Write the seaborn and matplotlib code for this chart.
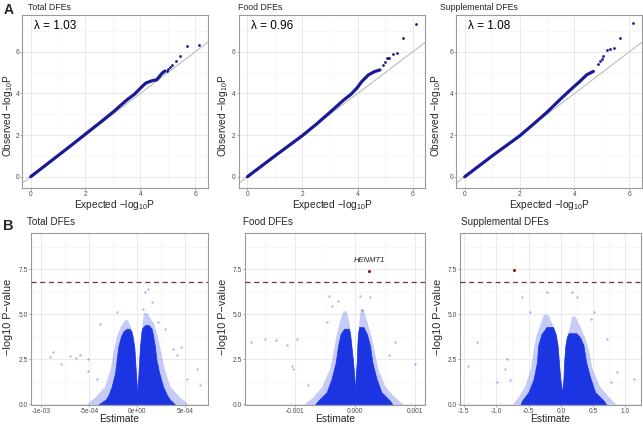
import matplotlib
matplotlib.use("Agg")
import matplotlib.pyplot as plt
from matplotlib.ticker import AutoMinorLocator, FixedLocator, FixedFormatter
import seaborn as sns
import pandas as pd

# ---------------- data ----------------
panel_titles = ["Total DFEs", "Food DFEs", "Supplemental DFEs"]
lambdas = ["λ = 1.03", "λ = 0.96", "λ = 1.08"]

# QQ: dense part of the curve
qq_total_exp = [0, 0.5, 1, 1.5, 2, 2.5, 3, 3.5, 3.8, 4.0, 4.2, 4.4, 4.6, 4.72, 4.8, 4.9]
qq_total_obs = [0, 0.51, 1.02, 1.53, 2.05, 2.57, 3.1, 3.68, 3.98, 4.25, 4.5, 4.6, 4.66, 4.85, 4.98, 5.08]
qq_food_exp = [0, 0.5, 1, 1.5, 2, 2.5, 3, 3.5, 3.75, 3.97, 4.15, 4.39, 4.61, 4.81]
qq_food_obs = [0, 0.5, 1.0, 1.49, 1.98, 2.52, 3.1, 3.69, 3.95, 4.25, 4.57, 4.89, 5.05, 5.13]
qq_supp_exp = [0, 0.5, 1, 1.5, 2, 2.5, 3, 3.5, 4, 4.2, 4.45, 4.69]
qq_supp_obs = [0, 0.5, 1.0, 1.48, 1.96, 2.52, 3.1, 3.74, 4.35, 4.58, 4.90, 5.06]
# QQ: separate top points
qq_total_top_exp = [4.96, 5.02, 5.08, 5.17, 5.29, 5.46, 5.69, 6.15]
qq_total_top_obs = [5.10, 5.18, 5.26, 5.38, 5.56, 5.82, 6.30, 6.35]
qq_food_top_exp = [4.93, 4.99, 5.05, 5.10, 5.15, 5.30, 5.44, 5.66, 6.12]
qq_food_top_obs = [5.37, 5.53, 5.72, 5.72, 5.72, 5.91, 5.95, 6.67, 7.33]
qq_supp_top_exp = [4.85, 4.93, 4.99, 5.05, 5.20, 5.31, 5.45, 5.66, 6.15]
qq_supp_top_obs = [5.41, 5.54, 5.65, 5.78, 6.09, 6.14, 6.17, 6.66, 7.38]

# Volcano: dense cloud envelopes (y levels, outer / inner estimate edges)
tot_left_y = [0.0, 0.25, 0.5, 0.97, 1.71, 2.45, 3.2, 3.76, 4.05, 4.2]
tot_left_outer = [-4.0e-4, -3.3e-4, -3.0e-4, -2.67e-4, -2.32e-4, -2.15e-4, -1.98e-4, -1.7e-4, -1.45e-4, -1.1e-4]
tot_left_inner = [0.0, 0.0, 0.0, -0.04e-4, -0.14e-4, -0.22e-4, -0.31e-4, -0.48e-4, -0.6e-4, -0.8e-4]
tot_right_y = [0.0, 0.25, 0.5, 0.97, 1.71, 2.45, 3.2, 3.76, 4.2, 4.4]
tot_right_inner = [0.0, 0.0, 0.0, 0.05e-4, 0.12e-4, 0.2e-4, 0.28e-4, 0.38e-4, 0.48e-4, 0.8e-4]
tot_right_outer = [3.9e-4, 3.4e-4, 3.1e-4, 2.7e-4, 2.3e-4, 2.0e-4, 1.84e-4, 1.67e-4, 1.5e-4, 1.2e-4]

food_left_y = [0, 0.2, 0.67, 1.41, 2.34, 3.27, 3.9, 4.2]
food_left_outer = [-0.66e-3, -0.61e-3, -0.47e-3, -0.39e-3, -0.32e-3, -0.28e-3, -0.24e-3, -0.18e-3]
food_left_inner = [0, 0, 0, -0.01e-3, -0.03e-3, -0.06e-3, -0.08e-3, -0.1e-3]
food_right_y = [0, 0.2, 0.67, 1.41, 2.34, 3.27, 3.9, 4.3]
food_right_inner = [0, 0, 0, 0.01e-3, 0.03e-3, 0.04e-3, 0.05e-3, 0.07e-3]
food_right_outer = [0.62e-3, 0.58e-3, 0.44e-3, 0.36e-3, 0.29e-3, 0.25e-3, 0.2e-3, 0.14e-3]

supp_left_y = [0, 0.2, 0.67, 1.41, 2.34, 3.27, 3.9, 4.3]
supp_left_outer = [-0.62, -0.6, -0.5, -0.42, -0.37, -0.35, -0.3, -0.22]
supp_left_inner = [0.02, 0.02, 0.02, -0.01, -0.03, -0.05, -0.08, -0.12]
supp_right_y = [0, 0.2, 0.67, 1.41, 2.34, 3.27, 3.7, 3.95]
supp_right_inner = [0.02, 0.02, 0.02, 0.04, 0.05, 0.07, 0.09, 0.12]
supp_right_outer = [0.7, 0.66, 0.53, 0.46, 0.39, 0.35, 0.3, 0.24]

# Volcano: lighter fringe around each lobe (y, outer edge, inner edge)
tot_fl_y = [0.0, 0.4, 1.0, 2.0, 3.0, 3.8, 4.3, 4.7]
tot_fl_outer = [-5.3e-4, -4.4e-4, -3.4e-4, -2.8e-4, -2.5e-4, -2.15e-4, -1.8e-4, -1.3e-4]
tot_fl_inner = [0.0, 0.0, -0.04e-4, -0.16e-4, -0.28e-4, -0.48e-4, -0.7e-4, -1.0e-4]
tot_fr_y = [0.0, 0.4, 1.0, 2.0, 3.0, 3.8, 4.5, 5.1]
tot_fr_inner = [0.0, 0.0, 0.05e-4, 0.15e-4, 0.26e-4, 0.38e-4, 0.5e-4, 0.65e-4]
tot_fr_outer = [5.3e-4, 4.4e-4, 3.4e-4, 2.8e-4, 2.4e-4, 2.1e-4, 1.7e-4, 1.0e-4]
food_fl_y = [0, 0.4, 1.0, 2.0, 3.0, 3.9, 4.6, 5.2]
food_fl_outer = [-0.85e-3, -0.7e-3, -0.55e-3, -0.42e-3, -0.36e-3, -0.31e-3, -0.26e-3, -0.2e-3]
food_fl_inner = [0, 0, 0, -0.02e-3, -0.05e-3, -0.08e-3, -0.1e-3, -0.15e-3]
food_fr_y = [0, 0.4, 1.0, 2.0, 3.0, 3.9, 4.7, 5.3]
food_fr_inner = [0, 0, 0, 0.02e-3, 0.04e-3, 0.05e-3, 0.07e-3, 0.09e-3]
food_fr_outer = [0.8e-3, 0.66e-3, 0.5e-3, 0.38e-3, 0.32e-3, 0.26e-3, 0.19e-3, 0.13e-3]
supp_fl_y = [0, 0.4, 1.0, 2.0, 3.0, 3.9, 4.5, 5.0]
supp_fl_outer = [-0.75, -0.66, -0.56, -0.47, -0.43, -0.38, -0.32, -0.27]
supp_fl_inner = [0.02, 0.02, 0.02, -0.02, -0.05, -0.09, -0.14, -0.2]
supp_fr_y = [0, 0.4, 1.0, 2.0, 3.0, 3.7, 4.3, 4.9]
supp_fr_inner = [0.02, 0.02, 0.03, 0.05, 0.07, 0.09, 0.13, 0.17]
supp_fr_outer = [0.85, 0.74, 0.6, 0.48, 0.43, 0.37, 0.3, 0.22]

# Volcano: scattered outlier points
tot_out_x = [-8.75e-4, -9.1e-4, -7.9e-4, -7.0e-4, -5.97e-4, -6.4e-4, -5.1e-4, -5.1e-4, -4.2e-4, -3.9e-4,
             -2.15e-4, 1.15e-4, 0.8e-4, 1.5e-4, 0.63e-4, 3.75e-4, 4.6e-4, 4.1e-4, 6.2e-4, 6.5e-4,
             5.15e-4, 2.2e-4, 2.9e-4]
tot_out_y = [2.93, 2.6, 2.25, 2.67, 2.71, 2.56, 2.52, 1.87, 1.41, 4.47,
             5.12, 6.42, 6.24, 5.68, 5.3, 3.08, 3.17, 2.71, 1.97, 1.04,
             1.41, 4.57, 4.19]
food_out_x = [-1.73e-3, -1.5e-3, -1.31e-3, -1.14e-3, -0.97e-3, -1.05e-3, -1.03e-3, -0.78e-3, -0.44e-3,
              -0.28e-3, -0.39e-3, 0.08e-3, 0.25e-3, 0.11e-3, 1.0e-3, 0.67e-3, 0.56e-3, -0.47e-3]
food_out_y = [3.45, 3.64, 3.55, 3.30, 3.64, 2.15, 1.97, 1.04, 6.05,
              5.77, 5.49, 6.05, 5.96, 5.22, 2.25, 3.45, 2.71, 4.57]
supp_out_x = [-1.43, -1.30, -0.83, -0.99, -0.79, -0.60, -0.22, 0.17, 0.25, 0.51, 0.46, 0.72,
              0.87, 1.13, 0.77, -0.48, -0.86]
supp_out_y = [2.15, 3.45, 2.52, 1.22, 1.32, 5.96, 6.24, 6.24, 5.96, 5.12, 4.75, 3.64,
              1.78, 1.41, 1.22, 5.12, 1.97]

# Significant hits
hit_food = (0.24e-3, 7.39, "HENMT1")
hit_supp = (-0.72, 7.46, "")
sig_threshold = 6.79

# tick labels
tot_xticks = [-1e-3, -5e-4, 0, 5e-4]
tot_xlabels = ["-1e-03", "-5e-04", "0e+00", "5e-04"]
food_xticks = [-1e-3, 0, 1e-3]
food_xlabels = ["-0.001", "0.000", "0.001"]
supp_xticks = [-1.5, -1.0, -0.5, 0.0, 0.5, 1.0]
supp_xlabels = ["-1.5", "-1.0", "-0.5", "0.0", "0.5", "1.0"]
volc_yticks = [0, 2.5, 5.0, 7.5]
volc_ylabels = ["0.0", "2.5", "5.0", "7.5"]
qq_ticks = [0, 2, 4, 6]

# ---------------- style ----------------
sns.set_theme(style="white")
plt.rcParams['font.family'] = ['Liberation Sans', 'DejaVu Sans']
plt.rcParams['mathtext.default'] = 'regular'

W, H = 643, 424
fig = plt.figure(figsize=(W / 100, H / 100), dpi=100)

def add_ax(l, r, t, b):
    return fig.add_axes([l / W, 1 - b / H, (r - l) / W, (b - t) / H])

QQ_COL = "#1a1a96"
VOL_COL = "#1c35e3"
GRID_MAJ = "#e6e6e6"
GRID_MIN = "#f2f2f2"
FRAME = "#9a9a9a"
TICKCOL = "#4d4d4d"

def style_axes(ax):
    for s in ax.spines.values():
        s.set_color(FRAME)
        s.set_linewidth(0.8)
    ax.xaxis.set_minor_locator(AutoMinorLocator(2))
    ax.yaxis.set_minor_locator(AutoMinorLocator(2))
    ax.grid(True, which="major", color=GRID_MAJ, lw=0.6, zorder=0)
    ax.grid(True, which="minor", color=GRID_MIN, lw=0.4, zorder=0)
    ax.set_axisbelow(True)
    ax.tick_params(which="major", length=1.6, width=0.6, color=FRAME, labelsize=4.8,
                   labelcolor=TICKCOL, pad=0.6, bottom=True, left=True)
    ax.tick_params(which="minor", length=0)
    ax.set_xlabel("")
    ax.set_ylabel("")

# ---------------- QQ panels ----------------
qq_curves = [(qq_total_exp, qq_total_obs, qq_total_top_exp, qq_total_top_obs),
             (qq_food_exp, qq_food_obs, qq_food_top_exp, qq_food_top_obs),
             (qq_supp_exp, qq_supp_obs, qq_supp_top_exp, qq_supp_top_obs)]
qq_boxes = [(22.2, 207.7), (238.8, 425.4), (456.2, 641.9)]
qq_title_x = [28, 238, 440]
qq_ylab_x = [8.5, 222.5, 436.5]

for i, (ex, ob, tex, tob) in enumerate(qq_curves):
    l, r = qq_boxes[i]
    ax = add_ax(l, r, 15, 188)
    ax.axline((0, 0), slope=1, color="#b5b5b5", lw=0.7, zorder=1)
    df = pd.DataFrame({"e": ex, "o": ob})
    sns.lineplot(data=df, x="e", y="o", ax=ax, color=QQ_COL, lw=2.3, sort=False,
                 solid_capstyle="round", zorder=3)
    dft = pd.DataFrame({"e": tex, "o": tob})
    sns.scatterplot(data=dft, x="e", y="o", ax=ax, color=QQ_COL, s=4, linewidth=0, zorder=4)
    ax.set_xlim(-0.31, 6.46)
    ax.set_ylim(-0.54, 7.77)
    ax.set_xticks(qq_ticks)
    ax.set_yticks(qq_ticks)
    style_axes(ax)
    ax.text(0.064, 0.936, lambdas[i], transform=ax.transAxes, ha="left", va="center",
            fontsize=8.5, color="black")
    fig.text(qq_title_x[i] / W, 1 - 7 / H, panel_titles[i], ha="left", va="center", fontsize=6.3)
    fig.text(((l + r) / 2) / W, 1 - 205 / H, "Expected −log$_{10}$P", ha="center",
             va="center", fontsize=7.3)
    fig.text(qq_ylab_x[i] / W, 1 - 116 / H, "Observed −log$_{10}$P", ha="center",
             va="center", rotation=90, fontsize=7.3)

# ---------------- volcano panels ----------------
volc = [
    dict(ly=tot_left_y, lo=tot_left_outer, li=tot_left_inner,
         ry=tot_right_y, ri=tot_right_inner, ro=tot_right_outer,
         fly=tot_fl_y, flo=tot_fl_outer, fli=tot_fl_inner,
         fry=tot_fr_y, fri=tot_fr_inner, fro=tot_fr_outer,
         ox=tot_out_x, oy=tot_out_y, xt=tot_xticks, xl=tot_xlabels,
         xlim=(-1.11e-3, 7.4e-4), box=(30.7, 208.3), hit=None),
    dict(ly=food_left_y, lo=food_left_outer, li=food_left_inner,
         ry=food_right_y, ri=food_right_inner, ro=food_right_outer,
         fly=food_fl_y, flo=food_fl_outer, fli=food_fl_inner,
         fry=food_fr_y, fri=food_fr_inner, fro=food_fr_outer,
         ox=food_out_x, oy=food_out_y, xt=food_xticks, xl=food_xlabels,
         xlim=(-1.833e-3, 1.16e-3), box=(245, 424.5), hit=hit_food),
    dict(ly=supp_left_y, lo=supp_left_outer, li=supp_left_inner,
         ry=supp_right_y, ri=supp_right_inner, ro=supp_right_outer,
         fly=supp_fl_y, flo=supp_fl_outer, fli=supp_fl_inner,
         fry=supp_fr_y, fri=supp_fr_inner, fro=supp_fr_outer,
         ox=supp_out_x, oy=supp_out_y, xt=supp_xticks, xl=supp_xlabels,
         xlim=(-1.56, 1.24), box=(460, 641), hit=hit_supp),
]
volc_title_x = [26.7, 243.3, 460.7]
volc_ylab_x = [8, 223, 438]

for i, v in enumerate(volc):
    l, r = v["box"]
    ax = add_ax(l, r, 232.7, 405)
    ax.fill_betweenx(v["fly"], v["flo"], v["fli"], color=VOL_COL, alpha=0.25, lw=0, zorder=2)
    ax.fill_betweenx(v["fry"], v["fri"], v["fro"], color=VOL_COL, alpha=0.25, lw=0, zorder=2)
    ax.fill_betweenx(v["ly"], v["lo"], v["li"], color=VOL_COL, alpha=1, lw=0.5, zorder=3)
    ax.fill_betweenx(v["ry"], v["ri"], v["ro"], color=VOL_COL, alpha=1, lw=0.5, zorder=3)
    dfo = pd.DataFrame({"x": v["ox"], "y": v["oy"]})
    sns.scatterplot(data=dfo, x="x", y="y", ax=ax, color=VOL_COL, s=3, alpha=0.35,
                    linewidth=0, zorder=4)
    ax.axhline(sig_threshold, color="#7a2e3b", lw=0.9, ls=(0, (4, 3)), zorder=5)
    if v["hit"] is not None:
        hx, hy, hl = v["hit"]
        dfh = pd.DataFrame({"x": [hx], "y": [hy]})
        sns.scatterplot(data=dfh, x="x", y="y", ax=ax, color="#8b1a1a", s=5, linewidth=0, zorder=6)
        if hl:
            ax.text(hx, hy + 0.4, hl, ha="center", va="bottom", fontsize=5.5, style="italic",
                    color="#222222")
    ax.set_xlim(*v["xlim"])
    ax.set_ylim(-0.05, 9.55)
    ax.xaxis.set_major_locator(FixedLocator(v["xt"]))
    ax.xaxis.set_major_formatter(FixedFormatter(v["xl"]))
    ax.yaxis.set_major_locator(FixedLocator(volc_yticks))
    ax.yaxis.set_major_formatter(FixedFormatter(volc_ylabels))
    style_axes(ax)
    fig.text(volc_title_x[i] / W, 1 - 222 / H, panel_titles[i], ha="left", va="center", fontsize=7.1)
    fig.text(((l + r) / 2) / W, 1 - 419 / H, "Estimate", ha="center", va="center", fontsize=7.4)
    fig.text(volc_ylab_x[i] / W, 1 - 317 / H, "−log10 P−value", ha="center", va="center",
             rotation=90, fontsize=7.8)

fig.text(4 / W, 1 - 10 / H, "A", ha="left", va="center", fontsize=10, fontweight="bold")
fig.text(3 / W, 1 - 226 / H, "B", ha="left", va="center", fontsize=10.5, fontweight="bold")

fig.savefig("out.png", dpi=100)
